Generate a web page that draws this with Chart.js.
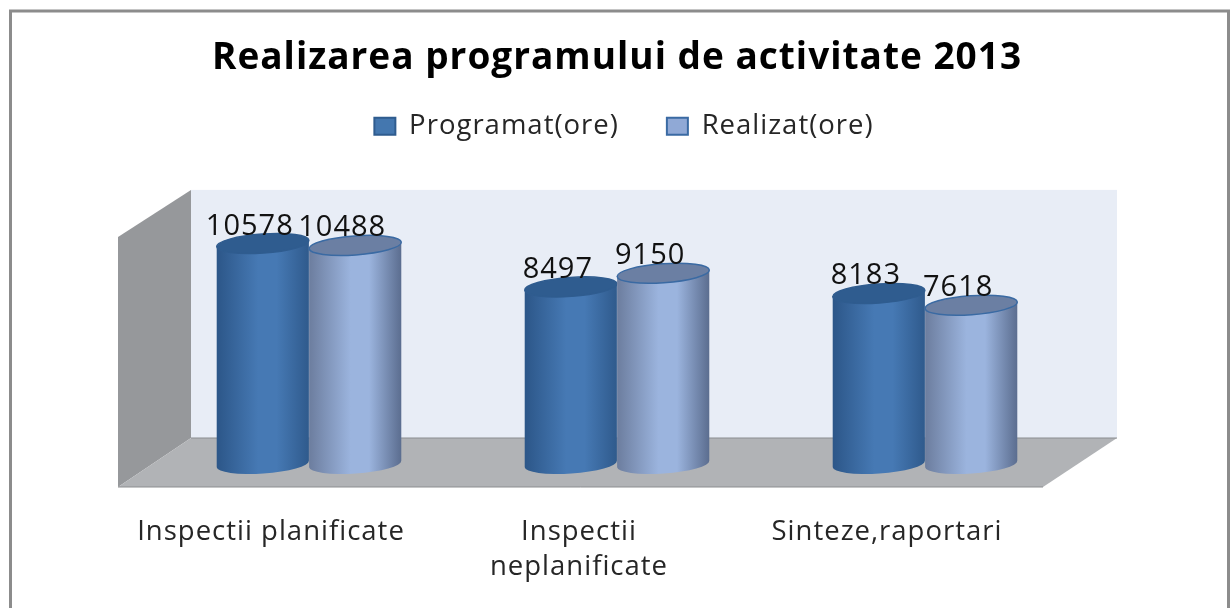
<!DOCTYPE html>
<html>
<head>
<meta charset="utf-8">
<script src="https://cdn.jsdelivr.net/npm/chart.js@4"></script>
<style>
  html, body { margin: 0; padding: 0; background: #fff; }
  canvas { display: block; }
</style>
</head>
<body>
<canvas id="myChart" width="1230" height="608"></canvas>
<script>
const categories = ['Inspectii planificate', ['Inspectii', 'neplanificate'], 'Sinteze,raportari'];
const programat = [10578, 8497, 8183];
const realizat = [10488, 9150, 7618];
const seriesNames = ['Programat(ore)', 'Realizat(ore)'];

const FONT = '"Open Sans", sans-serif';

// colours of the cylinders: edge, middle, edge, lid, outline
const looks = [
  { left: '#2c5688', mid: '#4679b4', right: '#2f5a8c', lid: '#2f5c8f', line: '#2f5c8f' },
  { left: '#6c7d9e', mid: '#9bb4de', right: '#5b6d8f', lid: '#6b7fa3', line: '#3a6aa3' }
];

function drawWalls(ctx, area) {
  const b = area.bottom, t = area.top;
  const backL = area.left + 36, backR = area.right + 38, backT = t + 40, backB = b - 26;
  const frontL = area.left - 37, frontR = area.right - 36, frontB = b + 23;
  ctx.fillStyle = '#e8edf6';
  ctx.fillRect(backL, backT, backR - backL, backB - backT);
  ctx.fillStyle = '#96989b';
  ctx.beginPath();
  ctx.moveTo(frontL, backT + 47);
  ctx.lineTo(backL, backT);
  ctx.lineTo(backL, backB);
  ctx.lineTo(frontL, frontB);
  ctx.closePath();
  ctx.fill();
  ctx.fillStyle = '#b1b3b6';
  ctx.strokeStyle = '#8b8d90';
  ctx.lineWidth = 1;
  ctx.beginPath();
  ctx.moveTo(frontL, frontB);
  ctx.lineTo(backL, backB);
  ctx.lineTo(backR, backB);
  ctx.lineTo(frontR, frontB);
  ctx.closePath();
  ctx.fill();
  ctx.beginPath();
  ctx.moveTo(frontL, frontB);
  ctx.lineTo(frontR, frontB);
  ctx.moveTo(backL, backB);
  ctx.lineTo(backR, backB);
  ctx.stroke();
}

function drawCylinder(ctx, bar, look) {
  const rx = bar.width / 2, ry = 9.5, rot = -0.07;
  const cx = bar.x, dx = rx * Math.cos(rot), dy = rx * Math.sin(rot);
  const grad = ctx.createLinearGradient(cx - rx, 0, cx + rx, 0);
  grad.addColorStop(0, look.left);
  grad.addColorStop(0.45, look.mid);
  grad.addColorStop(0.65, look.mid);
  grad.addColorStop(1, look.right);
  ctx.beginPath();
  ctx.moveTo(cx - dx, bar.y - dy);
  ctx.lineTo(cx - dx, bar.base - dy);
  ctx.ellipse(cx, bar.base, rx, ry, rot, Math.PI, 0, true);
  ctx.lineTo(cx + dx, bar.y + dy);
  ctx.closePath();
  ctx.fillStyle = grad;
  ctx.fill();
  ctx.beginPath();
  ctx.ellipse(cx, bar.y, rx, ry, rot, 0, Math.PI * 2);
  ctx.fillStyle = look.lid;
  ctx.fill();
  ctx.strokeStyle = look.line;
  ctx.lineWidth = 1.5;
  ctx.stroke();
}

const cylinders = {
  id: 'cylinders',
  beforeUpdate(chart) {
    // the original text is stretched, so every label gets some extra spacing
    chart.ctx.letterSpacing = '1px';
  },
  afterLayout(chart) {
    // legend is a little right of the centre in the original
    chart.legend.left += 7;
    chart.legend.right += 7;
  },
  beforeDraw(chart) {
    const ctx = chart.ctx;
    ctx.save();
    ctx.fillStyle = '#fff';
    ctx.fillRect(0, 0, chart.width, chart.height);
    ctx.strokeStyle = '#8c8c8c';
    ctx.lineWidth = 3;
    ctx.strokeRect(10.5, 11, chart.width - 12, chart.height + 50);
    ctx.restore();
  },
  beforeDatasetsDraw(chart) {
    const ctx = chart.ctx;
    ctx.save();
    drawWalls(ctx, chart.chartArea);
    chart.data.datasets.forEach((ds, i) => {
      chart.getDatasetMeta(i).data.forEach(bar => drawCylinder(ctx, bar, looks[i]));
    });
    // value labels sit on the lids, a bit to the left like the original
    ctx.fillStyle = '#111';
    ctx.font = '29px ' + FONT;
    ctx.textAlign = 'center';
    ctx.textBaseline = 'alphabetic';
    chart.data.datasets.forEach((ds, i) => {
      chart.getDatasetMeta(i).data.forEach((bar, j) => {
        ctx.fillText(String(ds.data[j]), bar.x - 13, bar.y - 9);
      });
    });
    ctx.restore();
    return false;
  }
};

const ctx = document.getElementById('myChart').getContext('2d');
const myChart = new Chart(ctx, {
  type: 'bar',
  plugins: [cylinders],
  data: {
    labels: categories,
    datasets: [
      { label: seriesNames[0], data: programat, backgroundColor: '#4477af', borderColor: '#2f5c8f', borderWidth: 2 },
      { label: seriesNames[1], data: realizat, backgroundColor: '#90a9d6', borderColor: '#3a6aa3', borderWidth: 2 }
    ]
  },
  options: {
    responsive: false,
    animation: false,
    categoryPercentage: 0.6,
    barPercentage: 1,
    layout: { padding: { left: 155, right: 151, top: 36, bottom: 0 } },
    scales: {
      x: {
        grid: { display: false },
        border: { display: false },
        afterFit(scale) { scale.height = 144; },
        ticks: {
          color: '#262626',
          font: { family: FONT, size: 27.5, lineHeight: 1.3 },
          padding: 42,
          labelOffset: -38,
          maxRotation: 0,
          autoSkip: false
        }
      },
      y: { display: false, min: 0, max: 15070 }
    },
    plugins: {
      title: {
        display: true,
        text: 'Realizarea programului de activitate 2013',
        color: '#000',
        font: { family: FONT, size: 37, weight: 'bold' },
        padding: { top: 0, bottom: -16 }
      },
      legend: {
        position: 'top',
        labels: {
          color: '#262626',
          font: { family: FONT, size: 27.5 },
          boxWidth: 21,
          boxHeight: 17,
          padding: 48
        }
      },
      tooltip: { enabled: false }
    }
  }
});
</script>
</body>
</html>
